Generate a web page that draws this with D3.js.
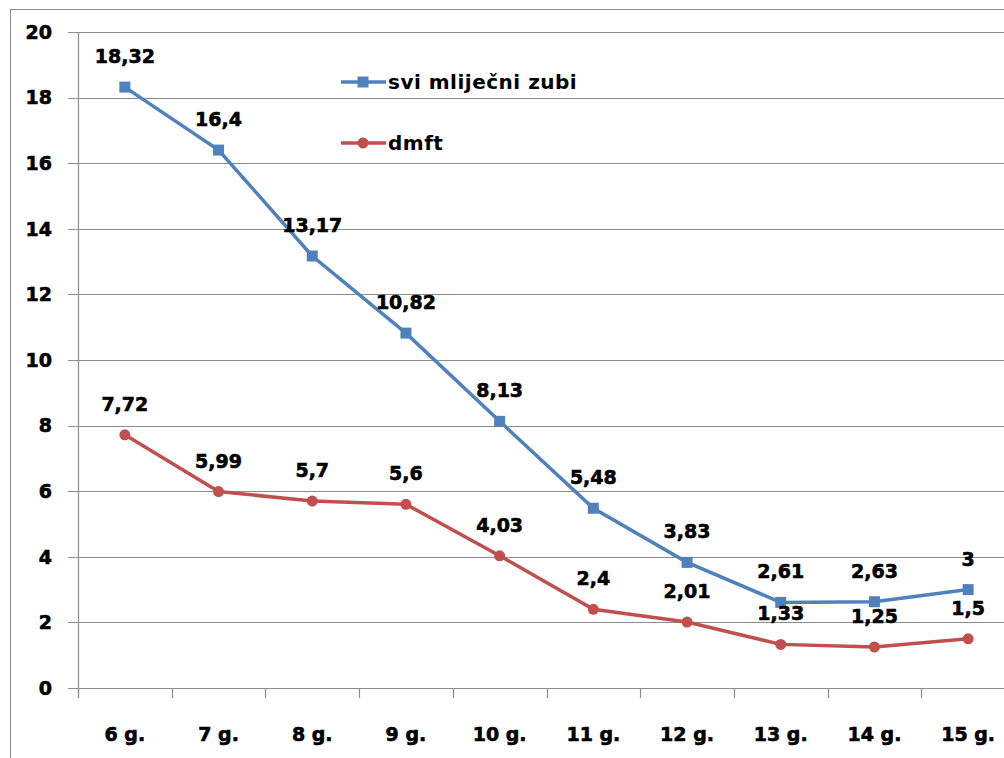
<!DOCTYPE html>
<html><head><meta charset="utf-8">
<script src="https://cdn.jsdelivr.net/npm/d3@7"></script>
<style>body{margin:0;background:#fff}svg{display:block}</style>
</head><body>
<script>
const categories = ["6 g.","7 g.","8 g.","9 g.","10 g.","11 g.","12 g.","13 g.","14 g.","15 g."];
const sviValues = [18.32,16.4,13.17,10.82,8.13,5.48,3.83,2.61,2.63,3];
const dmftValues = [7.72,5.99,5.7,5.6,4.03,2.4,2.01,1.33,1.25,1.5];
const seriesNames = ["svi mliječni zubi","dmft"];
const yTicks = [0,2,4,6,8,10,12,14,16,18,20];

const W=1004,H=758;
const svg=d3.select("body").append("svg").attr("width",W).attr("height",H);
svg.append("rect").attr("x",10.5).attr("y",9.5).attr("width",1010).attr("height",760)
  .attr("fill","#fff").attr("stroke","#8c8c8c").attr("stroke-width",1);

const x=d3.scaleBand().domain(categories).range([78,1015]);
const y=d3.scaleLinear().domain([0,20]).range([688,32]);
const g=svg.append("g");

g.selectAll(".grid").data(yTicks).enter().append("line")
  .attr("x1",68).attr("x2",1015).attr("y1",d=>Math.round(y(d))+0.5).attr("y2",d=>Math.round(y(d))+0.5)
  .attr("stroke","#8c8c8c").attr("stroke-width",1.2);
g.append("line").attr("x1",78.5).attr("x2",78.5).attr("y1",y(20)).attr("y2",y(0)+10).attr("stroke","#8c8c8c").attr("stroke-width",1.2);
g.selectAll(".xt").data(categories).enter().append("line")
  .attr("x1",d=>Math.round(x(d))+0.5).attr("x2",d=>Math.round(x(d))+0.5)
  .attr("y1",y(0)).attr("y2",y(0)+10).attr("stroke","#8c8c8c").attr("stroke-width",1.2);

const font="'DejaVu Sans', Verdana, sans-serif";
function heavy(sel){
  return sel.attr("font-family",font).attr("font-weight","bold").attr("font-size",19)
    .attr("fill","#000").attr("stroke","#000").attr("stroke-width",0.6);
}
heavy(g.selectAll(".yl").data(yTicks).enter().append("text")
  .attr("x",52).attr("y",d=>y(d)).attr("dy","0.36em").attr("text-anchor","end"))
  .text(d=>d);
heavy(g.selectAll(".xl").data(categories).enter().append("text")
  .attr("x",d=>x(d)+x.bandwidth()/2).attr("y",741).attr("text-anchor","middle"))
  .text(d=>d);

const cx=d=>x(d)+x.bandwidth()/2;
const blue="#4F81BD", red="#C0504D";
const line=d3.line().x((d,i)=>cx(categories[i])).y(d=>y(d));

g.append("path").datum(dmftValues).attr("d",line).attr("fill","none").attr("stroke",red).attr("stroke-width",3.5);
g.append("path").datum(sviValues).attr("d",line).attr("fill","none").attr("stroke",blue).attr("stroke-width",3.5);
g.selectAll(".rc").data(dmftValues).enter().append("circle")
  .attr("cx",(d,i)=>cx(categories[i])).attr("cy",d=>y(d)).attr("r",5.5).attr("fill",red);
g.selectAll(".bs").data(sviValues).enter().append("rect")
  .attr("x",(d,i)=>cx(categories[i])-5.5).attr("y",d=>y(d)-5.5).attr("width",11).attr("height",11).attr("fill",blue);

const fmt=v=>String(v).replace(".",",");
function labels(vals){
  heavy(g.selectAll(null).data(vals).enter().append("text")
    .attr("x",(d,i)=>cx(categories[i])).attr("y",d=>y(d)-24).attr("text-anchor","middle"))
    .text(fmt);
}
labels(sviValues); labels(dmftValues);

const leg=[{n:seriesNames[0],c:blue,t:"sq",yy:82},{n:seriesNames[1],c:red,t:"ci",yy:143}];
leg.forEach(l=>{
  svg.append("line").attr("x1",341).attr("x2",386).attr("y1",l.yy).attr("y2",l.yy).attr("stroke",l.c).attr("stroke-width",3.5);
  if(l.t==="sq") svg.append("rect").attr("x",357.5).attr("y",l.yy-5.5).attr("width",11).attr("height",11).attr("fill",l.c);
  else svg.append("circle").attr("cx",363).attr("cy",l.yy).attr("r",5.5).attr("fill",l.c);
  svg.append("text").attr("x",388).attr("y",l.yy).attr("dy","0.36em")
    .attr("font-family",font).attr("font-weight","bold").attr("font-size",20).attr("letter-spacing",0.5)
    .attr("fill","#000").text(l.n);
});
</script>
</body></html>
